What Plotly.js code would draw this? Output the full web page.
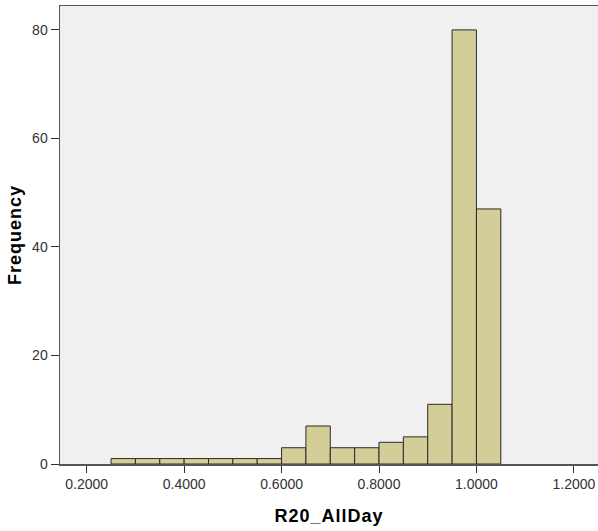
<!DOCTYPE html>
<html>
<head>
<meta charset="utf-8">
<script src="https://cdn.plot.ly/plotly-3.0.1.min.js"></script>
<style>
html,body{margin:0;padding:0;background:#fff;}
#chart{width:598px;height:531px;}
.g-xtitle text, .g-ytitle text { letter-spacing: 1px; }
</style>
</head>
<body>
<div id="chart"></div>
<script>
// Histogram bins of R20_AllDay (bin width 0.05)
const binStarts = [0.25, 0.30, 0.35, 0.40, 0.45, 0.50, 0.55, 0.60, 0.65, 0.70, 0.75, 0.80, 0.85, 0.90, 0.95, 1.00];
const frequencies = [1, 1, 1, 1, 1, 1, 1, 3, 7, 3, 3, 4, 5, 11, 80, 47];
const binWidth = 0.05;
const xTickValues = [0.2, 0.4, 0.6, 0.8, 1.0, 1.2];
const yTickValues = [0, 20, 40, 60, 80];

const centers = binStarts.map(s => s + binWidth / 2);

const trace = {
  type: 'bar',
  x: centers,
  y: frequencies,
  width: binStarts.map(() => binWidth),
  marker: { color: '#d3ce97', line: { color: '#2b2b2b', width: 1 } },
  hoverinfo: 'none'
};

const layout = {
  width: 598, height: 531,
  margin: { l: 60, r: 0, t: 6, b: 67 },
  paper_bgcolor: '#ffffff',
  plot_bgcolor: '#f0f0f0',
  showlegend: false,
  font: { family: 'Liberation Sans, Arial, sans-serif', size: 14, color: '#333' },
  xaxis: {
    range: [0.1452, 1.2495],
    tickvals: xTickValues,
    tickformat: '.4f',
    ticks: 'outside', ticklen: 7, tickwidth: 1, tickcolor: '#333',
    showline: true, linecolor: '#555', linewidth: 1.5, mirror: true,
    showgrid: false, zeroline: false,
    tickfont: { size: 14, color: '#333' },
    title: { text: 'R20_AllDay', font: { size: 18, color: '#000', weight: 'bold' }, standoff: 18 }
  },
  yaxis: {
    range: [0, 84.4],
    tickvals: yTickValues,
    ticks: 'outside', ticklen: 8, tickwidth: 1, tickcolor: '#333',
    showline: true, linecolor: '#555', linewidth: 1.5,
    showgrid: false, zeroline: false,
    tickfont: { size: 14, color: '#333' },
    title: { text: 'Frequency', font: { size: 18, color: '#000', weight: 'bold' }, standoff: 6 }
  },
  bargap: 0
};

Plotly.newPlot('chart', [trace], layout, { staticPlot: true, displayModeBar: false });
</script>
</body>
</html>
